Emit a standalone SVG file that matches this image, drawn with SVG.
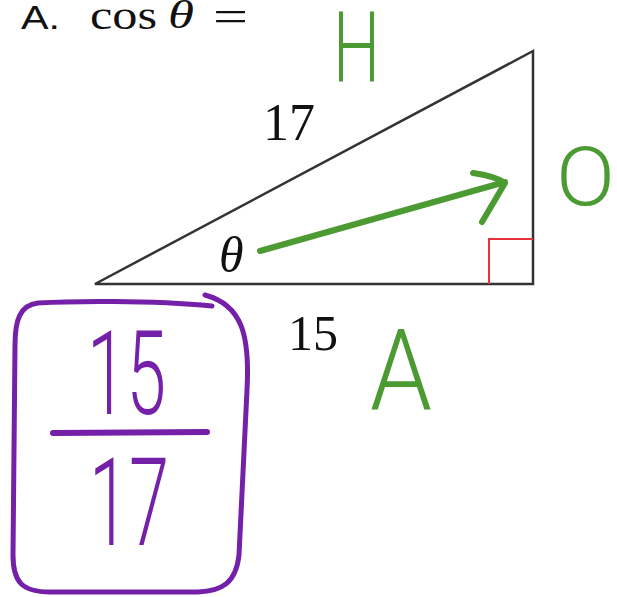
<svg xmlns="http://www.w3.org/2000/svg" width="617" height="597" viewBox="0 0 617 597">
<style>
.serif{font-family:"Liberation Serif","Times New Roman",serif;fill:#111}
.hand{font-family:Roboto,"Liberation Sans",sans-serif;font-weight:300}
.green{fill:#4b9a32}
.purple{fill:#7420a8}
.ink{fill:none;stroke-linecap:round;stroke-linejoin:round}
</style>
<rect width="617" height="597" fill="#fff"/>
<g id="title">
<text x="21" y="29" font-family="Liberation Sans, Arial, sans-serif" font-size="33" fill="#111" textLength="39" lengthAdjust="spacingAndGlyphs">A.</text>
<text class="serif" x="90" y="29" font-size="40" textLength="67" lengthAdjust="spacingAndGlyphs">cos</text>
<text class="serif" x="168" y="28" font-size="40" font-style="italic" textLength="26" lengthAdjust="spacingAndGlyphs">θ</text>
<text class="serif" x="213" y="31" font-size="44" textLength="35" lengthAdjust="spacingAndGlyphs">=</text>
</g>
<g id="triangle">
<polygon points="95,284 533,51 533,284" fill="none" stroke="#333" stroke-width="2.5" stroke-linejoin="miter"/>
<polyline points="489,284 489,239 533,239" fill="none" stroke="#e8313b" stroke-width="2"/>
<text class="serif" x="263" y="140" font-size="52">17</text>
<text class="serif" x="288" y="350" font-size="50">15</text>
<text class="serif" x="219" y="272" font-size="50" font-style="italic">θ</text>
</g>
<g id="labels">
<text class="hand green" x="333" y="82" font-size="98" textLength="47" lengthAdjust="spacingAndGlyphs">H</text>
<text class="hand green" x="556" y="205" font-size="82" textLength="59" lengthAdjust="spacingAndGlyphs">O</text>
<text class="hand green" x="370" y="410" font-size="114" textLength="62" lengthAdjust="spacingAndGlyphs">A</text>
</g>
<g id="connectors">
<path class="ink" d="M260,251 Q390,214 505,182" stroke="#4b9a32" stroke-width="6"/>
<path class="ink" d="M473,173 Q495,176 505,183 Q495,200 482,222" stroke="#4b9a32" stroke-width="6"/>
</g>
<g id="answer">
<path class="ink" d="M212,306 C150,300 70,301 38,303 C20,305 15,320 15,345 L13,555 C13,582 22,592 50,592 L198,592 C222,591 236,583 239,555 L247,390 C250,335 242,305 205,295" stroke="#7420a8" stroke-width="5"/>
<text class="hand purple" x="87" y="414" font-size="116" textLength="79" lengthAdjust="spacingAndGlyphs">15</text>
<path class="ink" d="M53,433 L207,432" stroke="#7420a8" stroke-width="6"/>
<text class="hand purple" x="89" y="545" font-size="122" textLength="80" lengthAdjust="spacingAndGlyphs">17</text>
</g>
</svg>
